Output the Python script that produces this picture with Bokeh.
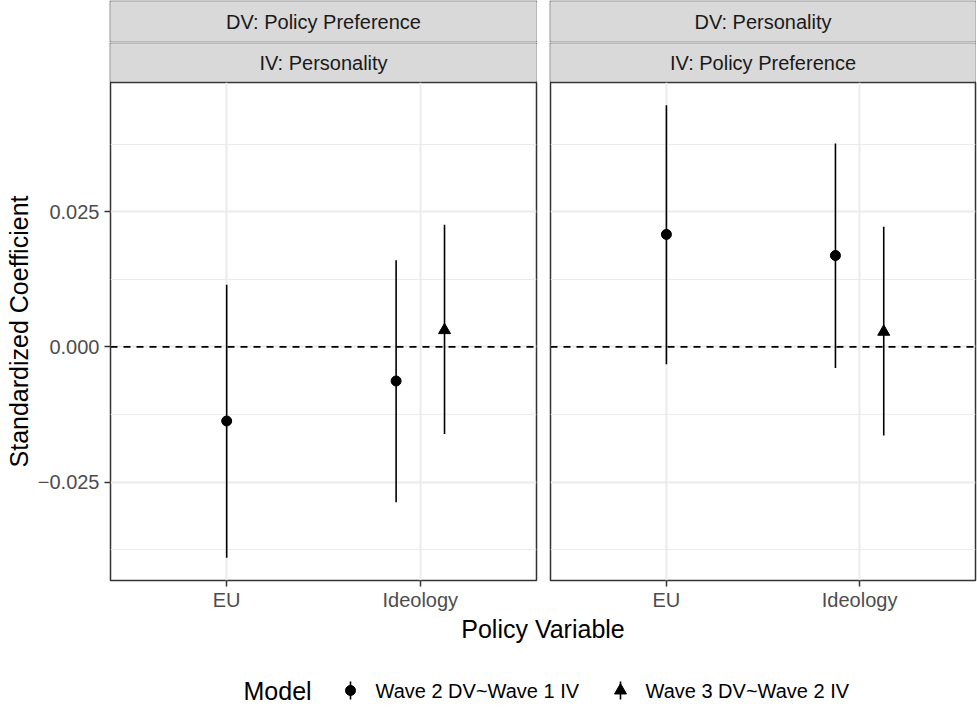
import numpy as np
import pandas as pd
from bokeh.plotting import figure
from bokeh.models import Range1d, FixedTicker, Span, Label, ColumnDataSource, Spacer
from bokeh.layouts import row, column
from bokeh.embed import file_html
from bokeh.resources import INLINE
from bokeh.core.properties import value

# ---------------- data ----------------
categories = ["EU", "Ideology"]
models = ["Wave 2 DV~Wave 1 IV", "Wave 3 DV~Wave 2 IV"]
strip_dv = ["DV: Policy Preference", "DV: Personality"]
strip_iv = ["IV: Personality", "IV: Policy Preference"]

p1_model = ["Wave 2 DV~Wave 1 IV", "Wave 2 DV~Wave 1 IV", "Wave 3 DV~Wave 2 IV"]
p1_var = ["EU", "Ideology", "Ideology"]
p1_est = [-0.0137, -0.0063, 0.0031]
p1_lo = [-0.0390, -0.0287, -0.0161]
p1_hi = [0.0115, 0.0160, 0.0226]

p2_model = ["Wave 2 DV~Wave 1 IV", "Wave 2 DV~Wave 1 IV", "Wave 3 DV~Wave 2 IV"]
p2_var = ["EU", "Ideology", "Ideology"]
p2_est = [0.0208, 0.0169, 0.0028]
p2_lo = [-0.0032, -0.0039, -0.0164]
p2_hi = [0.0447, 0.0376, 0.0222]

y_ticks = [-0.025, 0.0, 0.025]
y_tick_labels = ["\u22120.025", "0.000", "0.025"]
y_minor = [-0.0375, -0.0125, 0.0125, 0.0375]

x_title = "Policy Variable"
y_title = "Standardized Coefficient"
legend_title = "Model"

# ---------------- layout constants ----------------
FONT = "Liberation Sans"
L = 110            # left axis area
PWS = [426, 425]   # panel widths
GAP = 7
RB = 2
SHS = [42, 40]     # strip heights
PH = 498           # panel height
MB = 33            # bottom axis area
BH = 97            # bottom area (x title + legend)
TW = L + PWS[0] + GAP + GAP + PWS[1] + RB

DODGE = 0.25
marker_of = {models[0]: ("circle", 10), models[1]: ("triangle", 12)}


def build_df(model, var, est, lo, hi):
    df = pd.DataFrame(dict(model=model, var=var, est=est, lo=lo, hi=hi))
    xs = []
    for i, r in df.iterrows():
        same = df[df["var"] == r["var"]]
        n = len(same)
        rank = list(same.index).index(i)
        xs.append(categories.index(r["var"]) + 1 + (rank - (n - 1) / 2) * DODGE)
    df["x"] = xs
    return df


dfs = [build_df(p1_model, p1_var, p1_est, p1_lo, p1_hi),
       build_df(p2_model, p2_var, p2_est, p2_lo, p2_hi)]

ymin = min(d["lo"].min() for d in dfs)
ymax = max(d["hi"].max() for d in dfs)
pad = (ymax - ymin) * 0.05
YR = (ymin - pad, ymax + pad)
XR = (1 - 0.6, len(categories) + 0.6)


def style_axis(ax):
    ax.axis_line_color = None
    ax.major_tick_out = 6
    ax.major_tick_in = 0
    ax.major_tick_line_color = "#333333"
    ax.major_tick_line_width = 1.5
    ax.minor_tick_line_color = None
    ax.major_label_text_font = FONT
    ax.major_label_text_font_size = "20px"
    ax.major_label_text_color = "#4D4D4D"


def make_panel(df, first):
    pw = PWS[0] if first else PWS[1]
    w = (L + pw + GAP) if first else (GAP + pw + RB)
    p = figure(width=w, height=PH + MB,
               x_range=Range1d(*XR), y_range=Range1d(*YR),
               output_backend="svg", toolbar_location=None,
               y_axis_location="left" if first else None,
               min_border_left=L if first else GAP,
               min_border_right=GAP if first else RB,
               min_border_top=0, min_border_bottom=MB)
    p.outline_line_color = "#333333"
    p.outline_line_width = 1.5
    p.background_fill_color = "white"
    p.border_fill_color = "white"

    p.xgrid.ticker = FixedTicker(ticks=list(range(1, len(categories) + 1)))
    p.xgrid.grid_line_color = "#EBEBEB"
    p.xgrid.grid_line_width = 2
    p.ygrid.ticker = FixedTicker(ticks=y_ticks, minor_ticks=y_minor)
    p.ygrid.grid_line_color = "#EBEBEB"
    p.ygrid.grid_line_width = 2
    p.ygrid.minor_grid_line_color = "#EBEBEB"
    p.ygrid.minor_grid_line_width = 1.1

    ax = p.xaxis[0]
    ax.ticker = FixedTicker(ticks=list(range(1, len(categories) + 1)))
    ax.major_label_overrides = {i + 1: c for i, c in enumerate(categories)}
    style_axis(ax)
    ax.major_label_standoff = 2

    if first:
        ay = p.yaxis[0]
        ay.ticker = FixedTicker(ticks=y_ticks, minor_ticks=y_minor)
        ay.major_label_overrides = dict(zip(y_ticks, y_tick_labels))
        style_axis(ay)
        ay.major_label_standoff = 5
        ay.axis_label = y_title
        ay.axis_label_text_font = FONT
        ay.axis_label_text_font_size = "25px"
        ay.axis_label_text_font_style = "normal"
        ay.axis_label_text_color = "black"
        ay.axis_label_standoff = 2

    p.add_layout(Span(location=0, dimension="width", line_color="black",
                      line_dash="7 6", line_width=1.6))

    src = ColumnDataSource(df)
    p.segment(x0="x", y0="lo", x1="x", y1="hi", source=src,
              line_color="black", line_width=1.6)
    for m in models:
        sub = df[df["model"] == m]
        mk, sz = marker_of[m]
        p.scatter("x", "est", source=ColumnDataSource(sub), marker=mk, size=sz,
                  fill_color="black", line_color="black")
    return p


def make_strip(text, pw, sh):
    s = figure(width=pw + 2, height=sh, x_range=Range1d(0, 1), y_range=Range1d(0, 1),
               x_axis_type=None, y_axis_type=None, output_backend="svg",
               toolbar_location=None, min_border=1)
    s.border_fill_color = "#333333"
    s.background_fill_color = "#D9D9D9"
    s.outline_line_color = None
    s.add_layout(Label(x=0.5, y=0.5, text=text, text_align="center",
                       text_baseline="middle", text_font=FONT,
                       text_font_size="20px", text_color="#1A1A1A"))
    return s


p1 = make_panel(dfs[0], True)
p2 = make_panel(dfs[1], False)

col1 = column(row(Spacer(width=L - 1, height=SHS[0]), make_strip(strip_dv[0], PWS[0], SHS[0])),
              row(Spacer(width=L - 1, height=SHS[1]), make_strip(strip_iv[0], PWS[0], SHS[1])),
              p1)
col2 = column(row(Spacer(width=GAP - 1, height=SHS[0]), make_strip(strip_dv[1], PWS[1], SHS[0])),
              row(Spacer(width=GAP - 1, height=SHS[1]), make_strip(strip_iv[1], PWS[1], SHS[1])),
              p2)

# ---------------- bottom: x title + legend ----------------
b = figure(width=TW, height=BH, x_range=Range1d(0, TW), y_range=Range1d(0, BH),
           x_axis_type=None, y_axis_type=None, output_backend="svg",
           toolbar_location=None, min_border=0)
b.outline_line_color = None
b.border_fill_color = "white"
b.background_fill_color = "white"

panel_center = (L + (L + PWS[0] + GAP + GAP + PWS[1])) / 2
b.add_layout(Label(x=panel_center, y=BH - 15, text=x_title, text_align="center",
                   text_baseline="middle", text_font=FONT, text_font_size="25px",
                   text_color="black"))

LEG_Y = 20
b.add_layout(Label(x=243, y=LEG_Y, text=legend_title, text_align="left",
                   text_baseline="middle", text_font=FONT, text_font_size="25px",
                   text_color="black"))
key_x = [350, 620]
lab_x = [375, 645]
KEY_H = 18
b.segment(x0=key_x, y0=[LEG_Y - KEY_H / 2] * 2, x1=key_x, y1=[LEG_Y + KEY_H / 2] * 2,
          line_color="black", line_width=1.6)
for i, m in enumerate(models):
    mk, sz = marker_of[m]
    b.scatter([key_x[i]], [LEG_Y], marker=mk, size=sz, fill_color="black", line_color="black")
b.text(x=lab_x, y=[LEG_Y] * 2, text=models, text_align="left", text_baseline="middle",
       text_font=value(FONT), text_font_size="20px", text_color="black")

layout = column(row(col1, col2), b)

open("out.html", "w").write(file_html(layout, INLINE))
